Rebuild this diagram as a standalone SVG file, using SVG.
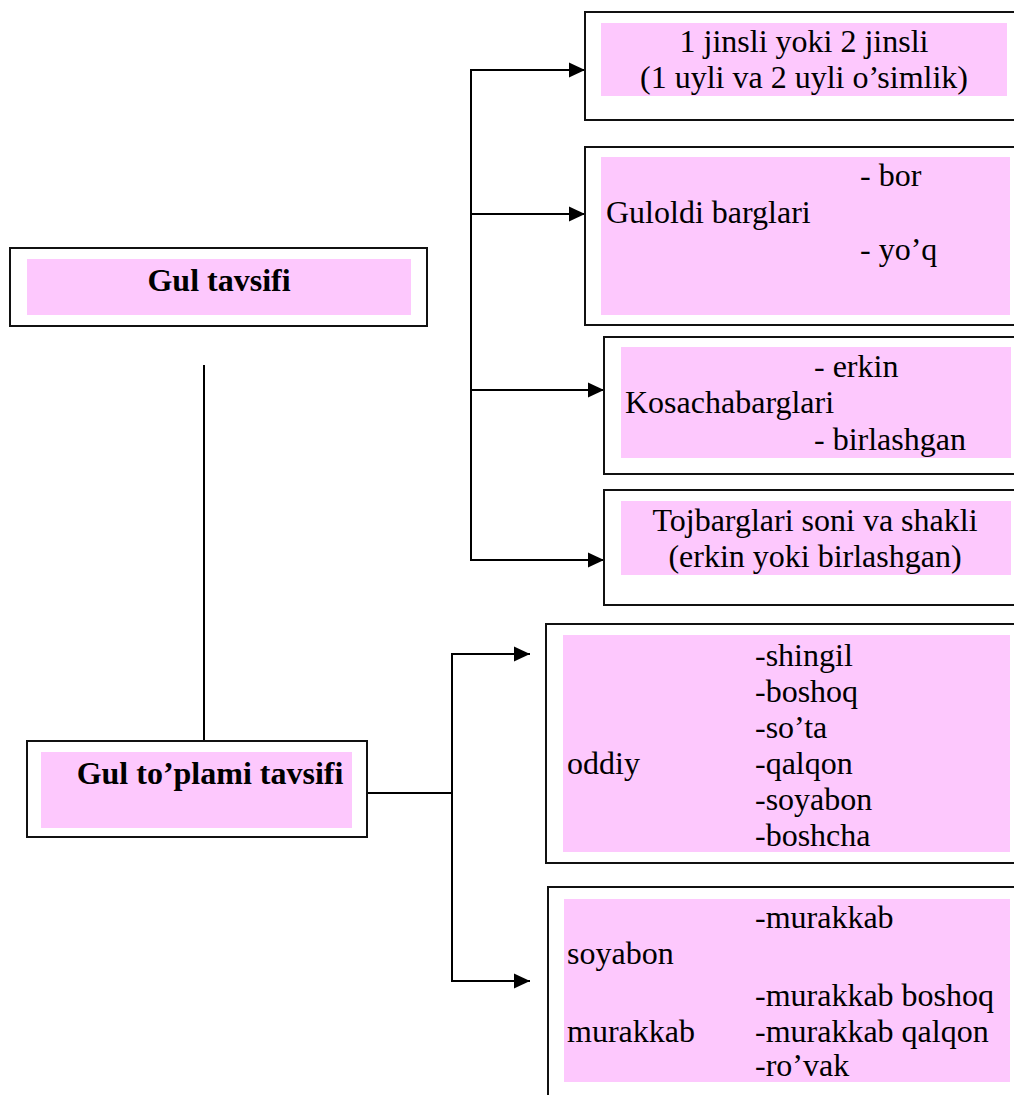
<svg xmlns="http://www.w3.org/2000/svg" width="1014" height="1095" viewBox="0 0 1014 1095">
  <defs>
    <marker id="arrow" markerUnits="userSpaceOnUse" markerWidth="17" markerHeight="16" refX="16" refY="8" orient="auto">
      <path d="M0,0.5 L16,8 L0,15.5 Z" fill="#000"/>
    </marker>
    <style>
      .frame { fill: #fff; stroke: #111; stroke-width: 2; }
      .fill { fill: #fdc8fd; }
      .t { font-size: 32px; fill: #000; }
      .b { font-size: 32px; font-weight: bold; fill: #000; }
      .ln { fill: none; stroke: #000; stroke-width: 2; }
    </style>
  </defs>
  <rect width="1014" height="1095" fill="#fff"/>

  <!-- connectors -->
  <g id="connectors">
    <line class="ln" x1="204" y1="365" x2="204" y2="742"/>
    <line class="ln" x1="471" y1="69" x2="471" y2="561"/>
    <line class="ln" x1="470" y1="70" x2="585" y2="70" marker-end="url(#arrow)"/>
    <line class="ln" x1="470" y1="214" x2="585" y2="214" marker-end="url(#arrow)"/>
    <line class="ln" x1="470" y1="390" x2="604" y2="390" marker-end="url(#arrow)"/>
    <line class="ln" x1="470" y1="560" x2="604" y2="560" marker-end="url(#arrow)"/>
    <line class="ln" x1="367" y1="793" x2="452" y2="793"/>
    <line class="ln" x1="452" y1="653" x2="452" y2="982"/>
    <line class="ln" x1="451" y1="654" x2="530" y2="654" marker-end="url(#arrow)"/>
    <line class="ln" x1="451" y1="981" x2="530" y2="981" marker-end="url(#arrow)"/>
  </g>

  <g font-family="'Liberation Serif', Tinos, 'Times New Roman', Times, serif">
  <g id="gul-tavsifi">
    <rect class="frame" x="10" y="248" width="417" height="78"/>
    <rect class="fill" x="27" y="259" width="384" height="56"/>
    <text class="b" x="219" y="291" text-anchor="middle">Gul tavsifi</text>
  </g>

  <g id="gul-toplami-tavsifi">
    <rect class="frame" x="27" y="741" width="340" height="96"/>
    <rect class="fill" x="41" y="752" width="311" height="76"/>
    <text class="b" x="210" y="784" text-anchor="middle">Gul to’plami tavsifi</text>
  </g>

  <g id="jinsli">
    <rect class="frame" x="585" y="12" width="440" height="108"/>
    <rect class="fill" x="601" y="23" width="406" height="73"/>
    <text class="t" x="804" y="52" text-anchor="middle">1 jinsli yoki 2 jinsli</text>
    <text class="t" x="804" y="88" text-anchor="middle">(1 uyli va 2 uyli o’simlik)</text>
  </g>

  <g id="guloldi">
    <rect class="frame" x="585" y="147" width="440" height="178"/>
    <rect class="fill" x="601" y="157" width="409" height="158"/>
    <text class="t" x="860" y="186">- bor</text>
    <text class="t" x="606" y="223">Guloldi barglari</text>
    <text class="t" x="860" y="260">- yo’q</text>
  </g>

  <g id="kosacha">
    <rect class="frame" x="604" y="337" width="420" height="137"/>
    <rect class="fill" x="621" y="347" width="390" height="111"/>
    <text class="t" x="814" y="377">- erkin</text>
    <text class="t" x="625" y="413">Kosachabarglari</text>
    <text class="t" x="814" y="450">- birlashgan</text>
  </g>

  <g id="tojbarg">
    <rect class="frame" x="604" y="490" width="420" height="115"/>
    <rect class="fill" x="621" y="501" width="390" height="74"/>
    <text class="t" x="815" y="531" text-anchor="middle">Tojbarglari soni va shakli</text>
    <text class="t" x="815" y="567" text-anchor="middle">(erkin yoki birlashgan)</text>
  </g>

  <g id="oddiy">
    <rect class="frame" x="546" y="624" width="480" height="239"/>
    <rect class="fill" x="563" y="635" width="447" height="217"/>
    <text class="t" x="755" y="666">-shingil</text>
    <text class="t" x="755" y="702">-boshoq</text>
    <text class="t" x="755" y="738">-so’ta</text>
    <text class="t" x="567" y="774">oddiy</text>
    <text class="t" x="755" y="774">-qalqon</text>
    <text class="t" x="755" y="810">-soyabon</text>
    <text class="t" x="755" y="846">-boshcha</text>
  </g>

  <g id="murakkab">
    <rect class="frame" x="548" y="887" width="480" height="230"/>
    <rect class="fill" x="564" y="899" width="446" height="183"/>
    <text class="t" x="755" y="928">-murakkab</text>
    <text class="t" x="567" y="964">soyabon</text>
    <text class="t" x="755" y="1006">-murakkab boshoq</text>
    <text class="t" x="567" y="1042">murakkab</text>
    <text class="t" x="755" y="1042">-murakkab qalqon</text>
    <text class="t" x="755" y="1076">-ro’vak</text>
  </g>
  </g>
</svg>
